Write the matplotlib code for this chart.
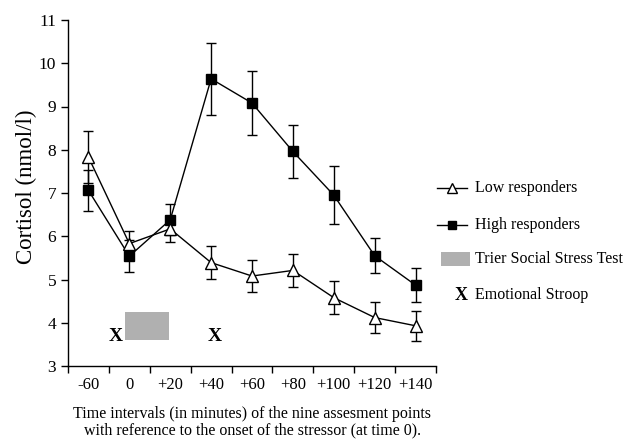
import matplotlib
matplotlib.use("Agg")
import matplotlib.pyplot as plt
from matplotlib.patches import Rectangle
from matplotlib.lines import Line2D

plt.rcParams['font.family'] = ['Liberation Serif', 'DejaVu Serif']

categories = ['-60', '0', '+20', '+40', '+60', '+80', '+100', '+120', '+140']
low_mean = [7.83, 5.83, 6.17, 5.39, 5.08, 5.21, 4.58, 4.12, 3.93]
low_err = [0.61, 0.30, 0.30, 0.38, 0.37, 0.39, 0.38, 0.35, 0.35]
high_mean = [7.06, 5.54, 6.38, 9.64, 9.08, 7.96, 6.95, 5.55, 4.87]
high_err = [0.47, 0.37, 0.36, 0.83, 0.75, 0.61, 0.67, 0.40, 0.40]
y_ticks = [3, 4, 5, 6, 7, 8, 9, 10, 11]

W, H = 627, 442
fig = plt.figure(figsize=(W / 100, H / 100), dpi=100)
ax = fig.add_axes([68 / W, (H - 366) / H, (436 - 68) / W, (366 - 20) / H])

x = list(range(1, len(categories) + 1))
ax.errorbar(x, high_mean, yerr=high_err, color='black', lw=1.0, marker='s',
            ms=7, mfc='black', mec='black', capsize=3.7, elinewidth=1.0,
            capthick=1.0, zorder=3)
ax.errorbar(x, low_mean, yerr=low_err, color='black', lw=1.0, marker='^',
            ms=8, mfc='white', mec='black', mew=1.0, capsize=3.7,
            elinewidth=1.0, capthick=1.0, zorder=4)

# stressor box and Stroop marks
ax.add_patch(Rectangle((1.9, 3.59), 1.07, 0.65, facecolor='#b0b0b0',
                       edgecolor='none', zorder=2))
for xs in (1.67, 4.1):
    ax.text(xs, 3.69, 'X', ha='center', va='center', fontsize=14,
            fontweight='bold')

ax.set_xlim(0.5, 9.5)
ax.set_ylim(3, 11)
ax.set_yticks(y_ticks)
ax.set_yticklabels([str(v) for v in y_ticks], fontsize=12.5)
ax.set_xticks([i + 0.5 for i in range(0, 10)])
ax.set_xticklabels([])
ax.set_xticks(x, minor=True)
ax.set_xticklabels(categories, minor=True, fontsize=12)
ax.tick_params(axis='x', which='minor', length=0, pad=8)
ax.tick_params(axis='both', which='major', direction='out', length=5,
               width=1.0)
ax.spines['top'].set_visible(False)
ax.spines['right'].set_visible(False)
for s in ('left', 'bottom'):
    ax.spines[s].set_linewidth(1.0)

ax.set_ylabel('Cortisol (nmol/l)', fontsize=16.5)
ax.yaxis.set_label_coords(-0.085, 0.517)
ax.set_xlabel('Time intervals (in minutes) of the nine assesment points\n'
              'with reference to the onset of the stressor (at time 0).',
              fontsize=11.5, labelpad=9, linespacing=1.1)

# legend (manual)
def fy(py):
    return (H - py) / H

def fx(px):
    return px / W

fig.add_artist(Line2D([fx(437), fx(467)], [fy(188), fy(188)], color='black',
                      lw=1.0))
fig.add_artist(Line2D([fx(452)], [fy(188)], marker='^', ms=7, mfc='white',
                      mec='black', lw=0))
fig.text(fx(475), fy(188), 'Low responders', ha='left', va='center',
         fontsize=11.5)
fig.add_artist(Line2D([fx(437), fx(467)], [fy(225), fy(225)], color='black',
                      lw=1.0))
fig.add_artist(Line2D([fx(452)], [fy(225)], marker='s', ms=6, mfc='black',
                      mec='black', lw=0))
fig.text(fx(475), fy(225), 'High responders', ha='left', va='center',
         fontsize=11.5)
fig.add_artist(Rectangle((fx(441), fy(266)), fx(470) - fx(441),
                         fy(252) - fy(266), facecolor='#b0b0b0',
                         edgecolor='none'))
fig.text(fx(475), fy(259), 'Trier Social Stress Test', ha='left',
         va='center', fontsize=11.5)
fig.text(fx(461), fy(295), 'X', ha='center', va='center', fontsize=13,
         fontweight='bold')
fig.text(fx(475), fy(295), 'Emotional Stroop', ha='left', va='center',
         fontsize=11.5)

fig.savefig('out.png', dpi=100)
